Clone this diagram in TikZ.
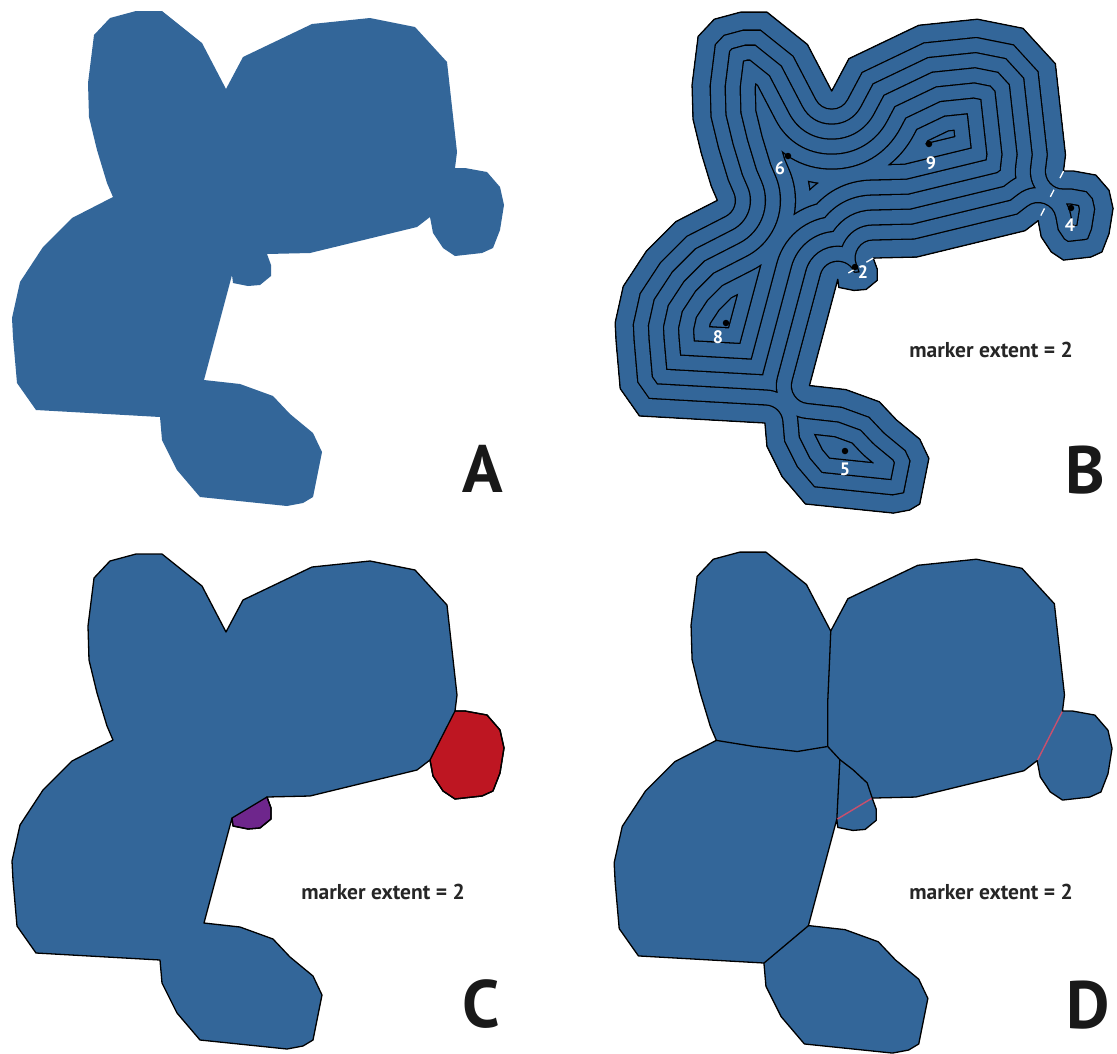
\documentclass[tikz,border=0pt]{standalone}
\usepackage{fontspec}
\setmainfont{PT Sans}
\definecolor{shapeblue}{RGB}{51,102,153}
\definecolor{lobered}{RGB}{190,22,34}
\definecolor{lobepurple}{RGB}{110,38,140}
\definecolor{cutpink}{RGB}{200,80,110}
\newcommand{\shapeoutline}{(110,18) -- (136,11) -- (162,11) -- (202,43) -- (226,89) -- (243,57) -- (312,24) -- (370,18) -- (415,27) -- (447,62) -- (457,152) -- (455,168) -- (465,168) -- (487,172) -- (500,187) -- (504,205) -- (500,230) -- (493,248) -- (482,253) -- (455,256) -- (443,248) -- (433,233) -- (430,217) -- (417,227) -- (310,253) -- (267,254) -- (271,265) -- (271,276) -- (260,285) -- (248,286) -- (233,283) -- (232,275) -- (204,380) -- (240,384) -- (273,396) -- (290,414) -- (313,433) -- (322,452) -- (313,497) -- (303,503) -- (287,506) -- (200,497) -- (177,470) -- (162,440) -- (160,417) -- (36,410) -- (17,383) -- (13,337) -- (12,318) -- (20,282) -- (43,247) -- (72,218) -- (113,197) -- (107,183) -- (97,150) -- (89,117) -- (88,83) -- (94,35) -- cycle}
\tikzset{
  outlinestroke/.style={draw=black,line width=1.3pt,line join=round},
  regionline/.style={draw=black,line width=1.3pt,line join=round},
  pinkcut/.style={draw=cutpink,line width=1.4pt},
  whitecut/.style={draw=white,line width=1.3pt,dash pattern=on 8pt off 13pt},
  panellbl/.style={anchor=base,font=\bfseries\fontsize{67}{67}\selectfont,text=black!90,inner sep=0pt},
  extentlbl/.style={anchor=base,font=\bfseries\fontsize{21.5}{21.5}\selectfont,text=black!85,inner sep=0pt},
  markdot/.style={circle,fill=black,inner sep=0pt,minimum size=6.5pt},
  marknum/.style={font=\bfseries\fontsize{18}{18}\selectfont,text=white,inner sep=0pt}
}
\begin{document}
\begin{tikzpicture}[x=1pt,y=-1pt]
\useasboundingbox (0,0) rectangle (1117,1053);
\fill[white] (0,0) rectangle (1117,1053);

% ---------- Panel A ----------
\begin{scope}
  \fill[shapeblue] \shapeoutline;
\end{scope}
\node[panellbl] (labA) at (483,492) {A};

% ---------- Panel B ----------
\begin{scope}[shift={(603,1)},scale=1.012]
  \fill[shapeblue] \shapeoutline;
  \begin{scope}
    \clip \shapeoutline;
    \foreach \k in {8,7,...,1}{
      \pgfmathsetmacro{\wblack}{2*(18+15*(\k-1))+1.3}
      \pgfmathsetmacro{\wblue}{2*(18+15*(\k-1))-1.3}
      \draw[black,line width=\wblack pt,line join=round] \shapeoutline;
      \draw[shapeblue,line width=\wblue pt,line join=round] \shapeoutline;
    }
  \end{scope}
  \draw[outlinestroke] \shapeoutline;
  \coordinate (b4a) at (455,168);
  \coordinate (b4b) at (430,217);
  \coordinate (b2a) at (267,254);
  \coordinate (b2b) at (232,275);
  \draw[whitecut] (b4a) -- (b4b);
  \draw[whitecut] (b2a) -- (b2b);
\end{scope}
\node[markdot] (m9) at (929,144) {};
\node[marknum] (n9) at (931,163) {9};
\node[markdot] (m6) at (788,156) {};
\node[marknum] (n6) at (780,168) {6};
\node[markdot] (m4) at (1071,208) {};
\node[marknum] (n4) at (1070,225) {4};
\node[markdot] (m2) at (855,267) {};
\node[marknum] (n2) at (863,272) {2};
\node[markdot] (m8) at (726,323) {};
\node[marknum] (n8) at (718,337) {8};
\node[markdot] (m5) at (845,451) {};
\node[marknum] (n5) at (845,469) {5};
\node[extentlbl] (extB) at (991,357) {marker extent = 2};
\node[panellbl] (labB) at (1085,493) {B};

% ---------- Panel C ----------
\begin{scope}[shift={(0,543)}]
  \fill[shapeblue] \shapeoutline;
  \filldraw[fill=lobered,outlinestroke] (455,168) -- (465,168) -- (487,172) -- (500,187) -- (504,205) -- (500,230) -- (493,248) -- (482,253) -- (455,256) -- (443,248) -- (433,233) -- (430,217) -- cycle;
  \filldraw[fill=lobepurple,outlinestroke] (267,254) -- (271,265) -- (271,276) -- (260,285) -- (248,286) -- (233,283) -- (232,275) -- cycle;
  \draw[outlinestroke] \shapeoutline;
\end{scope}
\node[extentlbl] (extC) at (383,899) {marker extent = 2};
\node[panellbl] (labC) at (481,1027) {C};

% ---------- Panel D ----------
\begin{scope}[shift={(602,541)},scale=1.012]
  \fill[shapeblue] \shapeoutline;
  \coordinate (dnotch) at (226,89);
  \coordinate (djoin) at (223,203);
  \coordinate (dsplit) at (235,216);
  \coordinate (dleft) at (113,197);
  \coordinate (dl2a) at (232,275);
  \coordinate (dl2b) at (267,254);
  \coordinate (dr4a) at (455,168);
  \coordinate (dr4b) at (430,217);
  \coordinate (dbota) at (204,380);
  \coordinate (dbotb) at (160,417);
  \draw[regionline] (dnotch) -- (225,115) -- (223,160) -- (djoin);
  \draw[regionline] (dleft) -- (150,203) -- (193,208) -- (djoin);
  \draw[regionline] (djoin) -- (dsplit);
  \draw[regionline] (dsplit) -- (dl2a);
  \draw[regionline] (dsplit) -- (248,226) -- (262,239) -- (dl2b);
  \draw[regionline] (dbota) -- (dbotb);
  \draw[pinkcut] (dl2a) -- (dl2b);
  \draw[pinkcut] (dr4a) -- (dr4b);
  \draw[outlinestroke] \shapeoutline;
\end{scope}
\node[extentlbl] (extD) at (991,899) {marker extent = 2};
\node[panellbl] (labD) at (1088,1028) {D};
\end{tikzpicture}
\end{document}
